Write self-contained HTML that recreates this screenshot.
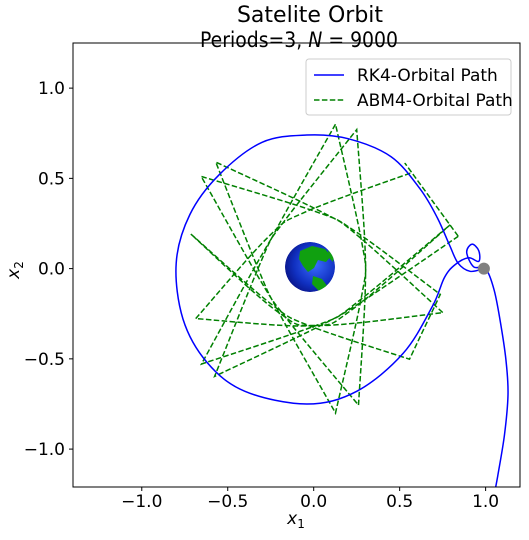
<!DOCTYPE html>
<html><head><meta charset="utf-8">
<style>
body{margin:0;background:#fff;}
svg text{font-family:"DejaVu Sans","Liberation Sans",sans-serif;}
</style></head>
<body>
<svg id="chart" width="529" height="535" xmlns="http://www.w3.org/2000/svg">
<defs>
<radialGradient id="eg" cx="0.6" cy="0.45" r="0.6">
<stop offset="0" stop-color="#3a6cff"/><stop offset="0.7" stop-color="#1030c0"/><stop offset="1" stop-color="#0a1890"/>
</radialGradient>
<clipPath id="pc"><rect x="73" y="43" width="447" height="444"/></clipPath>
<clipPath id="ec"><circle cx="310" cy="267" r="25"/></clipPath>
</defs>
<text x="310" y="22" font-size="22" text-anchor="middle">Satelite Orbit</text>
<text x="299" y="47" font-size="21" text-anchor="middle" textLength="198" lengthAdjust="spacingAndGlyphs">Periods=3, <tspan font-style="italic">N</tspan> = 9000</text>
<g id="plot" clip-path="url(#pc)"></g>
<g clip-path="url(#ec)">
<circle cx="310" cy="267" r="25" fill="url(#eg)"/>
<path d="M300,251 L312,246 L325,249 L331,256 L326,262 L318,260 L314,268 L308,272 L303,266 L299,259 Z" fill="#10a010"/>
<path d="M313,276 L322,279 L328,287 L320,292 L312,284 Z" fill="#10a010"/>
<path d="M328,250 L334,256 L333,262 L329,258 Z" fill="#10a010"/>
</g>
<rect x="73" y="43" width="447" height="444" fill="none" stroke="#000" stroke-width="1"/>
<g id="axes"></g>
<text x="296" y="524" font-size="17" text-anchor="middle" font-style="italic">x<tspan font-size="12" dy="4" font-style="normal">1</tspan></text>
<text transform="translate(19,270) rotate(-90)" font-size="17" text-anchor="middle" font-style="italic">x<tspan font-size="12" dy="4" font-style="normal">2</tspan></text>
<g>
<rect x="306" y="59" width="205" height="56" rx="3" fill="#fff" fill-opacity="0.8" stroke="#ccc"/>
<line x1="314" y1="75" x2="344" y2="75" stroke="#0000ff" stroke-width="1.5"/>
<text x="357" y="81" font-size="17">RK4-Orbital Path</text>
<line x1="314" y1="100" x2="344" y2="100" stroke="#008000" stroke-width="1.5" stroke-dasharray="5.5,2.4"/>
<text x="357" y="106" font-size="17">ABM4-Orbital Path</text>
</g>
</svg>
<script>
const xTicks=[-1.0,-0.5,0.0,0.5,1.0];
const yTicks=[-1.0,-0.5,0.0,0.5,1.0];
const xTickLabels=["\u22121.0","\u22120.5","0.0","0.5","1.0"];
const yTickLabels=["\u22121.0","\u22120.5","0.0","0.5","1.0"];
const rk4X=[0.99,0.91,0.84,0.79,0.72,0.62,0.45,0.20,-0.04,-0.30,-0.55,-0.72,-0.80,-0.76,-0.62,-0.40,-0.04,0.25,0.52,0.69,0.76,0.82,0.90,0.96,0.96,0.92,0.89,0.93,1.00,1.05,1.09,1.12,1.13,1.11,1.07,1.03];
const rk4Y=[0.00,-0.015,0.03,0.13,0.28,0.44,0.62,0.72,0.74,0.70,0.52,0.30,0.03,-0.28,-0.52,-0.68,-0.75,-0.68,-0.47,-0.21,-0.05,0.02,0.06,0.04,0.10,0.135,0.09,0.01,0.00,-0.12,-0.32,-0.52,-0.70,-0.92,-1.15,-1.35];
const abmTipAngles=[12,-141,72,-81,134,-18,165,-42,-11,142,-71,81,-134,17,-158,43,12];
const abmTipRadii=[0.86,0.84,0.81,0.81,0.82,0.79,0.74,0.75,0.75,0.83,0.80,0.81,0.83,0.83,0.74,0.78,0.86];
const abmPeriRadius=[0.29];
const moonPos=[0.99,0.0];

const X0=73,X1=520,XMIN=-1.4,XMAX=1.2,Y0=43,Y1=487,YMAX=1.25,YMIN=-1.21;
const sx=v=>X0+(v-XMIN)/(XMAX-XMIN)*(X1-X0);
const sy=v=>Y0+(YMAX-v)/(YMAX-YMIN)*(Y1-Y0);
const NS="http://www.w3.org/2000/svg";
const plot=document.getElementById('plot'),axes=document.getElementById('axes');

function smooth(pts,noMove){
  let d=noMove?'':`M${pts[0][0].toFixed(1)},${pts[0][1].toFixed(1)}`;
  for(let i=0;i<pts.length-1;i++){
    const p0=pts[Math.max(0,i-1)],p1=pts[i],p2=pts[i+1],p3=pts[Math.min(pts.length-1,i+2)];
    const c1=[p1[0]+(p2[0]-p0[0])/6,p1[1]+(p2[1]-p0[1])/6];
    const c2=[p2[0]-(p3[0]-p1[0])/6,p2[1]-(p3[1]-p1[1])/6];
    d+=` C${c1[0].toFixed(1)},${c1[1].toFixed(1)} ${c2[0].toFixed(1)},${c2[1].toFixed(1)} ${p2[0].toFixed(1)},${p2[1].toFixed(1)}`;
  }
  return d;
}

// ABM4 green path: tip-to-tip arcs bent to brush the periapsis circle
let gd='';
for(let i=0;i<abmTipAngles.length-1;i++){
  const a1=abmTipAngles[i]*Math.PI/180,r1=abmTipRadii[i];
  const a2=abmTipAngles[i+1]*Math.PI/180,r2=abmTipRadii[i+1];
  const P1=[r1*Math.cos(a1),r1*Math.sin(a1)],P2=[r2*Math.cos(a2),r2*Math.sin(a2)];
  const D=[P2[0]-P1[0],P2[1]-P1[1]],L=Math.hypot(D[0],D[1]);
  const t=[D[0]/L,D[1]/L];
  const s=-(P1[0]*t[0]+P1[1]*t[1]);
  const C=[P1[0]+t[0]*s,P1[1]+t[1]*s];
  let cl=Math.hypot(C[0],C[1]);
  const n=cl>0.01?[C[0]/cl,C[1]/cl]:[-t[1],t[0]];
  const dist=Math.max(cl,abmPeriRadius[0]);
  const q=[-0.13,0.13].map(k=>[n[0]*dist+t[0]*(s+k)-t[0]*s+ (C[0]-n[0]*cl)*0, n[1]*dist+t[1]*(s+k)-t[1]*s]);
  const pts=[P1,q[0],q[1],P2].map(p=>[sx(p[0]),sy(p[1])]);
  gd+=smooth(pts,i>0);
}
const g=document.createElementNS(NS,'path');
g.setAttribute('d',gd);
g.setAttribute('fill','none');g.setAttribute('stroke','#008000');g.setAttribute('stroke-width','1.5');
g.setAttribute('stroke-dasharray','5.5,2.4');


plot.appendChild(g);

const bpts=rk4X.map((x,i)=>[sx(x),sy(rk4Y[i])]);
const b=document.createElementNS(NS,'path');
b.setAttribute('d',smooth(bpts,false));
b.setAttribute('fill','none');b.setAttribute('stroke','#0000ff');b.setAttribute('stroke-width','1.5');


plot.appendChild(b);

const moon=document.createElementNS(NS,'circle');
moon.setAttribute('cx',sx(moonPos[0]));moon.setAttribute('cy',sy(moonPos[1]));moon.setAttribute('r',6);moon.setAttribute('fill','#808080');


document.getElementById('chart').appendChild(moon);

xTicks.forEach((v,i)=>{
  const l=document.createElementNS(NS,'line');
  l.setAttribute('x1',sx(v));l.setAttribute('x2',sx(v));l.setAttribute('y1',487);l.setAttribute('y2',491);l.setAttribute('stroke','#000');
  
  
  axes.appendChild(l);
  const t=document.createElementNS(NS,'text');
  t.setAttribute('x',sx(v));t.setAttribute('y',507);t.setAttribute('font-size','17');t.setAttribute('text-anchor','middle');
  t.textContent=xTickLabels[i];
  
  
  axes.appendChild(t);
});
yTicks.forEach((v,i)=>{
  const l=document.createElementNS(NS,'line');
  l.setAttribute('x1',69);l.setAttribute('x2',73);l.setAttribute('y1',sy(v));l.setAttribute('y2',sy(v));l.setAttribute('stroke','#000');
  
  
  axes.appendChild(l);
  const t=document.createElementNS(NS,'text');
  t.setAttribute('x',65);t.setAttribute('y',sy(v)+6);t.setAttribute('font-size','17');t.setAttribute('text-anchor','end');
  t.textContent=yTickLabels[i];
  
  
  axes.appendChild(t);
});
</script>
</body></html>
